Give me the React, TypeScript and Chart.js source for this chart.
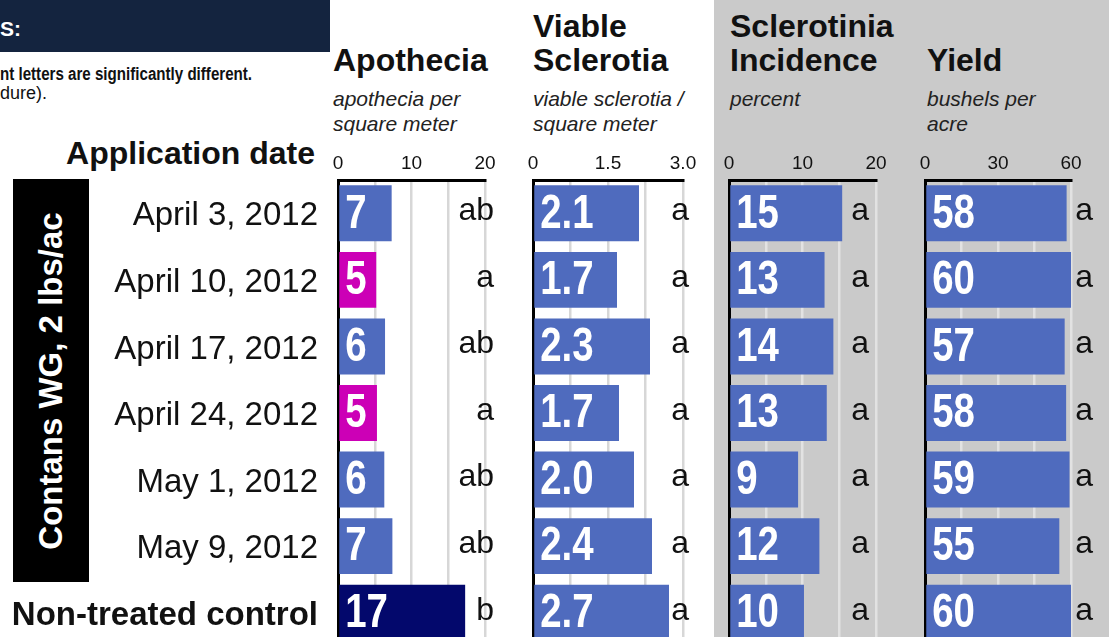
import React, { useEffect, useRef } from 'react';
import { Chart, registerables } from 'chart.js';

Chart.register(...registerables);

const FONT = '"Liberation Sans", Arial, Helvetica, sans-serif';
Chart.defaults.font.family = FONT;

// ---- data ----
const categories = [
  'April 3, 2012',
  'April 10, 2012',
  'April 17, 2012',
  'April 24, 2012',
  'May 1, 2012',
  'May 9, 2012',
  'Non-treated control',
];

const apotheciaValues = [7.3, 5.2, 6.4, 5.3, 6.3, 7.4, 17.3];
const apotheciaLetters = ['ab', 'a', 'ab', 'a', 'ab', 'ab', 'b'];
const apotheciaColors = ['#4f6bbe', '#cc00b6', '#4f6bbe', '#cc00b6', '#4f6bbe', '#4f6bbe', '#03086c'];
const apotheciaTicks = ['0', '10', '20'];

const sclerotiaValues = [2.12, 1.68, 2.34, 1.72, 2.02, 2.38, 2.72];
const sclerotiaLetters = ['a', 'a', 'a', 'a', 'a', 'a', 'a'];
const sclerotiaTicks = ['0', '1.5', '3.0'];

const incidenceValues = [15.4, 13.0, 14.2, 13.3, 9.4, 12.3, 10.2];
const incidenceLetters = ['a', 'a', 'a', 'a', 'a', 'a', 'a'];
const incidenceTicks = ['0', '10', '20'];

const yieldValues = [58.2, 60.3, 57.4, 58.0, 59.4, 55.2, 60.4];
const yieldLetters = ['a', 'a', 'a', 'a', 'a', 'a', 'a'];
const yieldTicks = ['0', '30', '60'];

const BLUE = '#4f6bbe';

type Panel = {
  values: number[];
  letters: string[];
  colors: string | string[];
  tickLabels: string[];
  max: number;
  step: number;
  fmt: (v: number) => string;
  left: number;
  width: number;
  yWidth: number;
  padRight: number;
  letterDx: number;
  grid: string;
  showCats: boolean;
};

const round0 = (v: number) => String(Math.round(v));

const panels: Panel[] = [
  {
    values: apotheciaValues, letters: apotheciaLetters, colors: apotheciaColors, tickLabels: apotheciaTicks,
    max: 20, step: 5, fmt: round0, left: 0, width: 510, yWidth: 338, padRight: 25, letterDx: 9,
    grid: '#d7d7d7', showCats: true,
  },
  {
    values: sclerotiaValues, letters: sclerotiaLetters, colors: BLUE, tickLabels: sclerotiaTicks,
    max: 3, step: 0.75, fmt: (v) => v.toFixed(1), left: 520, width: 190, yWidth: 13, padRight: 27, letterDx: 6,
    grid: '#d7d7d7', showCats: false,
  },
  {
    values: incidenceValues, letters: incidenceLetters, colors: BLUE, tickLabels: incidenceTicks,
    max: 20, step: 5, fmt: round0, left: 716, width: 184, yWidth: 13, padRight: 24, letterDx: -7,
    grid: '#e2e2e2', showCats: false,
  },
  {
    values: yieldValues, letters: yieldLetters, colors: BLUE, tickLabels: yieldTicks,
    max: 60, step: 15, fmt: round0, left: 912, width: 200, yWidth: 13, padRight: 41, letterDx: 22,
    grid: '#e2e2e2', showCats: false,
  },
];

const CANVAS_TOP = 140;
const CANVAS_H = 506;

function PanelChart({ panel }: { panel: Panel }) {
  const ref = useRef<HTMLCanvasElement>(null);
  useEffect(() => {
    const labelPlugin = {
      id: 'barLabels',
      afterDatasetsDraw(chart: any) {
        const ctx = chart.ctx as CanvasRenderingContext2D;
        const meta = chart.getDatasetMeta(0);
        const area = chart.chartArea;
        meta.data.forEach((bar: any, i: number) => {
          const { y, base } = bar.getProps(['y', 'base'], true);
          ctx.save();
          ctx.fillStyle = '#ffffff';
          ctx.font = `bold 48px ${FONT}`;
          ctx.textBaseline = 'middle';
          ctx.textAlign = 'left';
          ctx.translate(base + 6, y + 1);
          ctx.scale(0.8, 1);
          ctx.fillText(panel.fmt(panel.values[i]), 0, 0);
          ctx.restore();

          ctx.save();
          ctx.fillStyle = '#111111';
          ctx.font = `32px ${FONT}`;
          ctx.textBaseline = 'middle';
          ctx.textAlign = 'right';
          ctx.fillText(panel.letters[i], area.right + panel.letterDx, y - 2);
          ctx.restore();
        });
      },
    };

    const chart = new Chart(ref.current!, {
      type: 'bar',
      data: {
        labels: categories,
        datasets: [
          {
            data: panel.values,
            backgroundColor: panel.colors as any,
            borderWidth: 0,
            barPercentage: 0.84,
            categoryPercentage: 1,
          },
        ],
      },
      options: {
        indexAxis: 'y',
        animation: false,
        responsive: false,
        maintainAspectRatio: false,
        layout: { padding: { left: 0, right: panel.padRight, top: 0, bottom: 0 } },
        plugins: { legend: { display: false }, tooltip: { enabled: false }, title: { display: false } },
        scales: {
          x: {
            position: 'top',
            min: 0,
            max: panel.max,
            ticks: {
              stepSize: panel.step,
              autoSkip: false,
              maxRotation: 0,
              padding: 5,
              color: '#111',
              font: { size: 19, family: FONT },
              callback: (v: any) => {
                const hit = panel.tickLabels.find((t) => Math.abs(parseFloat(t) - Number(v)) < 1e-6);
                return hit !== undefined ? hit : '';
              },
            },
            grid: { color: panel.grid, lineWidth: 2.5, drawTicks: false },
            border: { color: '#000', width: 3 },
            afterFit: (s: any) => {
              s.height = 40;
              s.paddingLeft = 0;
              s.paddingRight = 0;
            },
          },
          y: {
            ticks: {
              display: panel.showCats,
              autoSkip: false,
              padding: 20,
              labelOffset: 3,
              color: '#111',
              font: (c: any) =>
                c.index === categories.length - 1
                  ? { size: 33, weight: 'bold', family: FONT }
                  : { size: 33, family: FONT },
            },
            grid: { display: false, drawTicks: false },
            border: { color: '#000', width: 3 },
            afterFit: (s: any) => {
              s.width = panel.yWidth;
              s.paddingTop = 0;
              s.paddingBottom = 0;
            },
          },
        },
      } as any,
      plugins: [labelPlugin as any],
    });
    return () => chart.destroy();
  }, [panel]);

  return (
    <canvas
      ref={ref}
      width={panel.width}
      height={CANVAS_H}
      style={{ position: 'absolute', left: panel.left, top: CANVAS_TOP, width: panel.width, height: CANVAS_H }}
    />
  );
}

const abs = (o: React.CSSProperties): React.CSSProperties => ({ position: 'absolute', whiteSpace: 'nowrap', ...o });

const headerStyle: React.CSSProperties = { fontSize: 32, fontWeight: 'bold', lineHeight: '34px', color: '#111' };
const subStyle: React.CSSProperties = { fontSize: 21, fontStyle: 'italic', lineHeight: '25px', color: '#222' };

export default function App() {
  return (
    <div
      style={{
        position: 'absolute',
        left: 0,
        top: 0,
        width: 1112,
        height: 637,
        overflow: 'hidden',
        background: '#ffffff',
        fontFamily: FONT,
      }}
    >
      {/* gray panel */}
      <div style={abs({ left: 714, top: 0, width: 395, height: 637, background: '#cacaca' })} />

      {/* top-left banner */}
      <div style={abs({ left: 0, top: 0, width: 330, height: 52, background: '#14243f' })} />
      <div style={abs({ left: 0, top: 17, fontSize: 21, lineHeight: '24px', fontWeight: 'bold', color: '#fff' })}>S:</div>
      <div
        style={abs({
          left: 0,
          top: 64,
          fontSize: 18,
          lineHeight: '20px',
          fontWeight: 'bold',
          color: '#111',
          transform: 'scaleX(0.84)',
          transformOrigin: 'left top',
        })}
      >
        nt letters are significantly different.
      </div>
      <div style={abs({ left: 0, top: 83, fontSize: 18, lineHeight: '20px', color: '#111' })}>dure).</div>

      {/* headers */}
      <div style={abs({ ...headerStyle, left: 333, top: 43 })}>Apothecia</div>
      <div style={abs({ ...subStyle, left: 333, top: 86 })}>
        apothecia per
        <br />
        square meter
      </div>
      <div style={abs({ ...headerStyle, left: 533, top: 9 })}>
        Viable
        <br />
        Sclerotia
      </div>
      <div style={abs({ ...subStyle, left: 533, top: 86 })}>
        viable sclerotia /
        <br />
        square meter
      </div>
      <div style={abs({ ...headerStyle, left: 730, top: 9 })}>
        Sclerotinia
        <br />
        Incidence
      </div>
      <div style={abs({ ...subStyle, left: 730, top: 86 })}>percent</div>
      <div style={abs({ ...headerStyle, left: 927, top: 43 })}>Yield</div>
      <div style={abs({ ...subStyle, left: 927, top: 86 })}>
        bushels per
        <br />
        acre
      </div>

      <div style={abs({ ...headerStyle, left: 0, width: 315, top: 136, textAlign: 'right' })}>Application date</div>

      {/* group box */}
      <div
        style={abs({
          left: 13,
          top: 179,
          width: 76,
          height: 403,
          background: '#000',
          display: 'flex',
          alignItems: 'center',
          justifyContent: 'center',
        })}
      >
        <span
          style={{
            display: 'inline-block',
            transform: 'rotate(-90deg)',
            whiteSpace: 'nowrap',
            color: '#fff',
            fontWeight: 'bold',
            fontSize: 33,
            lineHeight: '36px',
          }}
        >
          Contans WG, 2 lbs/ac
        </span>
      </div>

      {panels.map((p, i) => (
        <PanelChart key={i} panel={p} />
      ))}
    </div>
  );
}
